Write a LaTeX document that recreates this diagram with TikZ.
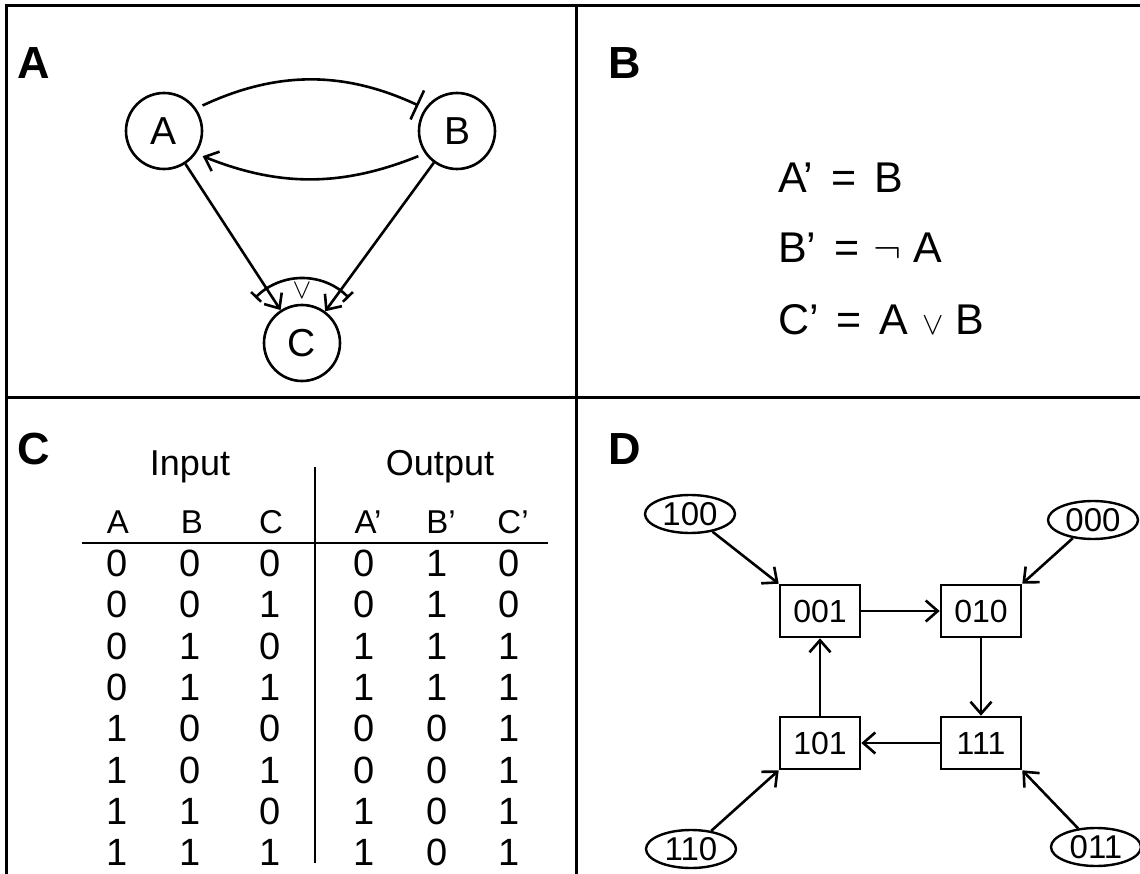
\RequirePackage{fix-cm}
\documentclass[tikz,border=0pt]{standalone}
\usepackage{fontspec}
\setmainfont{Liberation Sans}
\usetikzlibrary{arrows.meta,shapes.geometric}
\newcommand{\symsc}[2]{{\fontsize{10}{12}\selectfont\scalebox{#1}{$#2$}}}
\begin{document}
\begin{tikzpicture}[x=1pt,y=1pt,
  frame/.style={line width=3pt},
  conn/.style={line width=2.6pt},
  arr/.style={conn,-{Straight Barb[length=12pt,width=21pt]}},
  inh/.style={conn,-{Bar[width=32pt]}},
  panel/.style={anchor=base west,inner sep=0,font=\fontsize{45}{45}\selectfont\bfseries},
  state/.style={circle,draw,line width=2.6pt,minimum size=76,inner sep=0,font=\fontsize{39}{39}\selectfont},
  eqn/.style={anchor=base west,inner sep=0,font=\fontsize{43}{43}\selectfont},
  hdr/.style={anchor=base,inner sep=0,font=\fontsize{33}{33}\selectfont},
  ttl/.style={anchor=base,inner sep=0,font=\fontsize{36}{36}\selectfont},
  cell/.style={anchor=base,inner sep=0,font=\fontsize{38}{38}\selectfont},
  sbox/.style={rectangle,draw,line width=2.6pt,minimum width=80,minimum height=52,inner sep=0,font=\fontsize{32}{32}\selectfont},
  sell/.style={ellipse,draw,line width=2.4pt,minimum width=90,minimum height=38,inner sep=0,font=\fontsize{33}{33}\selectfont},
]
\useasboundingbox (0,0) rectangle (1140,-874);
% frame
\draw[frame] (6,-874) -- (6,-6) -- (1140,-6);
\draw[frame] (576,-6) -- (576,-874);
\draw[frame] (6,-397) -- (1140,-397);
% panel labels
\node[panel] (lA) at (17,-79) {A};
\node[panel] (lB) at (608,-79) {B};
\node[panel] (lC) at (17,-464) {C};
\node[panel] (lD) at (608,-464) {D};
% panel A
\node[state] (A) at (164,-131) {A};
\node[state] (B) at (457,-131) {B};
\node[state] (C) at (302,-343) {C};
\draw[inh,shorten <=7pt,shorten >=7pt] (A.35) to[bend left=25] (B.145);
\draw[arr,shorten <=7pt,shorten >=7pt] (B.215) to[bend left=22] (A.325);
\draw[arr] (A) -- (C);
\draw[arr] (B) -- (C);
\draw[conn,{Bar[width=14pt]}-{Bar[width=14pt]}] ([shift={(44:65)}]C.center) arc[start angle=44,end angle=136,radius=65];
\node[inner sep=0] (orA) at (302,-291) {\symsc{2.8}{\vee}};
% panel B
\node[eqn] (e1) at (778,-193) {A’\hspace{18pt}=\hspace{18pt}B};
\node[eqn] (e2) at (778,-263) {B’\hspace{18pt}=\hspace{14pt}\symsc{4.2}{\neg}\hspace{12pt}A};
\node[eqn] (e3) at (778,-335) {C’\hspace{18pt}=\hspace{18pt}A\hspace{14pt}\symsc{3.2}{\vee}\hspace{12pt}B};
% panel C
\node[ttl] (tin) at (190,-475) {Input};
\node[ttl] (tout) at (440,-475) {Output};
\foreach \t/\x [count=\i] in {A/118,B/192,C/271,A’/368,B’/441,C’/513}
  \node[hdr] (h\i) at (\x,-533) {\t};
\foreach \row [count=\j] in {{0,0,0,0,1,0},{0,0,1,0,1,0},{0,1,0,1,1,1},{0,1,1,1,1,1},{1,0,0,0,0,1},{1,0,1,0,0,1},{1,1,0,1,0,1},{1,1,1,1,0,1}}{
  \foreach \v [count=\i] in \row {
    \pgfmathsetmacro\xx{{117,190,270,364,437,509}[\i-1]}
    \node[cell] (c\j-\i) at (\xx,{-576.5-41.3*(\j-1)}) {\v};
  }
}
\draw[conn] (82,-543) -- (548,-543);
\draw[conn] (315,-467) -- (315,-863);
% panel D
\node[sbox] (s001) at (820,-611) {001};
\node[sbox] (s010) at (981,-611) {010};
\node[sbox] (s101) at (820,-743) {101};
\node[sbox] (s111) at (981,-743) {111};
\node[sell] (e100) at (690,-514) {100};
\node[sell] (e000) at (1093,-520) {000};
\node[sell] (e110) at (691,-849) {110};
\node[sell] (e011) at (1096,-847) {011};
\draw[arr] (s001) -- (s010);
\draw[arr] (s010) -- (s111);
\draw[arr] (s111) -- (s101);
\draw[arr] (s101) -- (s001);
\draw[arr] (e100) -- (s001.north west);
\draw[arr] (e000) -- (s010.north east);
\draw[arr] (e110) -- (s101.south west);
\draw[arr] (e011) -- (s111.south east);
\end{tikzpicture}
\end{document}
